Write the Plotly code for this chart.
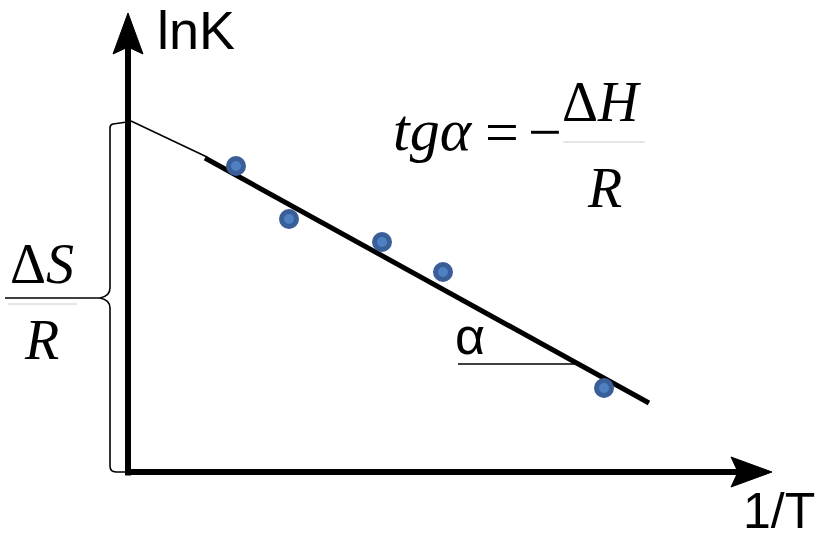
import plotly.graph_objects as go

# Measured points: reciprocal temperature vs. ln K (arbitrary units)
inv_T = [1.08, 1.61, 2.54, 3.15, 4.76]
ln_K = [3.06, 2.53, 2.30, 2.00, 0.84]

# Fitted straight line through the points
fit_x = [0.77, 5.21]
fit_y = [3.14, 0.69]

# Extrapolation of the fit back to the ln K axis (intercept = ΔS/R)
extrap_x = [0.03, 0.79]
extrap_y = [3.51, 3.15]
intercept = 3.51

# Horizontal reference line marking the slope angle α
alpha_x = [3.30, 4.52]
alpha_y = [1.08, 1.08]

# Axis extents
x_axis_end = 6.44
y_axis_end = 4.59

SERIF = "Liberation Serif, Times New Roman, serif"
SANS = "Liberation Sans, Arial, sans-serif"

fig = go.Figure()

# Thin extrapolation segment
fig.add_trace(go.Scatter(x=extrap_x, y=extrap_y, mode="lines",
                         line=dict(color="black", width=1.5), hoverinfo="skip"))
# Thick fitted line
fig.add_trace(go.Scatter(x=fit_x, y=fit_y, mode="lines",
                         line=dict(color="black", width=5), hoverinfo="skip"))
# Angle reference line
fig.add_trace(go.Scatter(x=alpha_x, y=alpha_y, mode="lines",
                         line=dict(color="black", width=1.5), hoverinfo="skip"))
# Data points
fig.add_trace(go.Scatter(x=inv_T, y=ln_K, mode="markers",
                         marker=dict(size=15, color="#4f80c2",
                                     line=dict(color="#3a5f98", width=5))))

shapes = []
# Axes lines
shapes.append(dict(type="line", x0=0, y0=-0.035, x1=0, y1=y_axis_end - 0.3,
                   line=dict(color="black", width=6)))
shapes.append(dict(type="line", x0=-0.03, y0=0, x1=x_axis_end - 0.3, y1=0,
                   line=dict(color="black", width=6)))
# Arrowheads
hl, hw, notch = 0.41, 0.15, 0.34
shapes.append(dict(type="path", fillcolor="black", line=dict(color="black", width=1),
                   path=f"M 0,{y_axis_end} L {-hw},{y_axis_end - hl} L 0,{y_axis_end - notch} "
                        f"L {hw},{y_axis_end - hl} Z"))
shapes.append(dict(type="path", fillcolor="black", line=dict(color="black", width=1),
                   path=f"M {x_axis_end},0 L {x_axis_end - hl},{hw} L {x_axis_end - notch},0 "
                        f"L {x_axis_end - hl},{-hw} Z"))

# Brace spanning from 0 to the intercept on the ln K axis
bx, tip_x = -0.18, -0.28
mid = intercept / 2 - 0.015
brace = (f"M -0.01,{intercept - 0.01} L -0.15,{intercept - 0.03} "
         f"Q {bx},{intercept - 0.035} {bx},{intercept - 0.07} "
         f"L {bx},{mid + 0.1} Q {bx},{mid + 0.02} {tip_x},{mid} "
         f"Q {bx},{mid - 0.02} {bx},{mid - 0.1} "
         f"L {bx},0.06 Q {bx},0.0 -0.12,0.0 L -0.02,0.0")
shapes.append(dict(type="path", path=brace, line=dict(color="black", width=1.6)))
# Leader from the brace tip to the ΔS/R label
shapes.append(dict(type="line", x0=-1.23, y0=mid, x1=tip_x, y1=mid,
                   line=dict(color="black", width=1.5)))
# Fraction bars
shapes.append(dict(type="line", x0=-1.20, y0=1.68, x1=-0.51, y1=1.68,
                   line=dict(color="#cccccc", width=1)))
shapes.append(dict(type="line", x0=4.35, y0=3.30, x1=5.17, y1=3.30,
                   line=dict(color="#cccccc", width=1)))

annotations = [
    dict(x=0.27, y=4.42, text="lnK", xanchor="left", yanchor="middle",
         font=dict(family=SANS, size=54, color="black")),
    dict(x=6.89, y=-0.39, text="1/T", xanchor="right", yanchor="middle",
         font=dict(family=SANS, size=50, color="black")),
    dict(x=3.25, y=1.36, text="α", xanchor="left", yanchor="middle",
         font=dict(family=SANS, size=52, color="black")),
    dict(x=2.63, y=3.42, text="<i>tgα</i>", xanchor="left", yanchor="middle",
         font=dict(family=SERIF, size=60, color="black")),
    dict(x=3.74, y=3.40, text="=", xanchor="center", yanchor="middle",
         font=dict(family=SERIF, size=60, color="black")),
    dict(x=4.17, y=3.40, text="−", xanchor="center", yanchor="middle",
         font=dict(family=SERIF, size=60, color="black")),
    dict(x=4.73, y=3.70, text="Δ<i>H</i>", xanchor="center", yanchor="middle",
         font=dict(family=SERIF, size=56, color="black")),
    dict(x=4.76, y=2.84, text="<i>R</i>", xanchor="center", yanchor="middle",
         font=dict(family=SERIF, size=56, color="black")),
    dict(x=-0.86, y=2.08, text="Δ<i>S</i>", xanchor="center", yanchor="middle",
         font=dict(family=SERIF, size=56, color="black")),
    dict(x=-0.87, y=1.32, text="<i>R</i>", xanchor="center", yanchor="middle",
         font=dict(family=SERIF, size=56, color="black")),
]
for a in annotations:
    a.update(showarrow=False, xref="x", yref="y")

fig.update_layout(
    width=820, height=533,
    margin=dict(l=0, r=0, t=0, b=0),
    paper_bgcolor="white", plot_bgcolor="white",
    showlegend=False,
    xaxis=dict(range=[-1.28, 6.92], visible=False, fixedrange=True),
    yaxis=dict(range=[-0.61, 4.72], visible=False, fixedrange=True),
    shapes=shapes,
    annotations=annotations,
)

fig.write_html("out.html")
